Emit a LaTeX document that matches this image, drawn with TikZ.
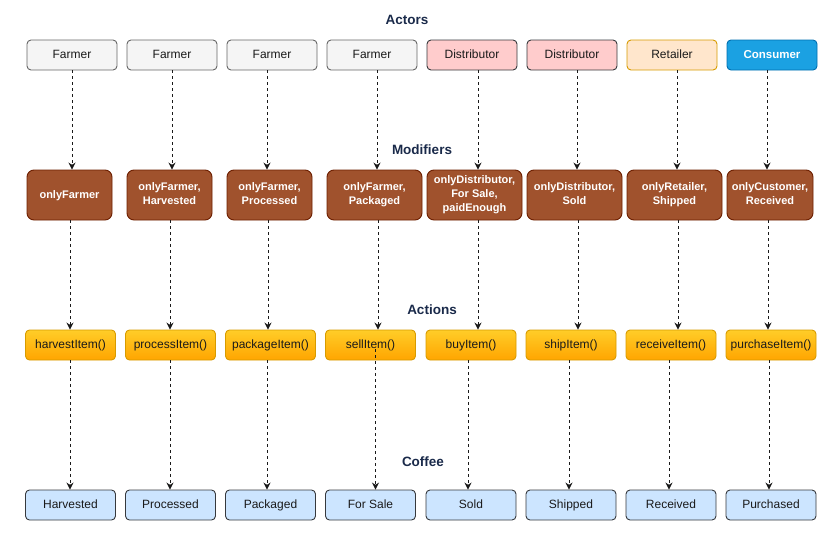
\documentclass[tikz,border=0pt]{standalone}
\usepackage{fontspec}
\setmainfont{Liberation Sans}
\usetikzlibrary{arrows.meta}
\newcommand\boxstrut{\rule[-2.6pt]{0pt}{11.2pt}}
\definecolor{titlec}{HTML}{1A2A4A}
\definecolor{txt}{HTML}{1A1A1A}
\definecolor{farmfill}{HTML}{F5F5F5}
\definecolor{farmdraw}{HTML}{666666}
\definecolor{distfill}{HTML}{FFCCCC}
\definecolor{distdraw}{HTML}{36393D}
\definecolor{retfill}{HTML}{FFE6CC}
\definecolor{retdraw}{HTML}{D79B00}
\definecolor{confill}{HTML}{1BA1E2}
\definecolor{condraw}{HTML}{006EAF}
\definecolor{modfill}{HTML}{A0522D}
\definecolor{moddraw}{HTML}{6D1F00}
\definecolor{acttop}{HTML}{FFCD28}
\definecolor{actbot}{HTML}{FFA500}
\definecolor{actdraw}{HTML}{D79B00}
\definecolor{cofill}{HTML}{CCE5FF}
\definecolor{codraw}{HTML}{36393D}
\tikzset{
  box/.style={rounded corners=4pt, line width=0.9pt, inner sep=0pt, align=center,
    font=\fontsize{12}{14}\selectfont, text=txt,
    execute at begin node=\boxstrut, execute at end node=\boxstrut},
  actorbox/.style={box, minimum width=90pt, minimum height=30pt},
  farmer/.style={actorbox, fill=farmfill, draw=farmdraw},
  distr/.style={actorbox, fill=distfill, draw=distdraw},
  retail/.style={actorbox, fill=retfill, draw=retdraw},
  consum/.style={actorbox, fill=confill, draw=condraw, text=white, font=\fontsize{11.5}{14}\selectfont\bfseries},
  modbox/.style={box, rounded corners=7pt, fill=modfill, draw=moddraw, text=white,
    font=\fontsize{11}{14}\selectfont\bfseries, minimum height=50pt},
  actbox/.style={box, top color=acttop, bottom color=actbot, draw=actdraw, minimum width=90pt, minimum height=30pt},
  cobox/.style={box, fill=cofill, draw=codraw, minimum width=90pt, minimum height=30pt},
  title/.style={font=\fontsize{13.5}{16}\selectfont\bfseries, text=titlec},
  arr/.style={-{Stealth[length=7pt,width=7pt]}, dashed, dash pattern=on 3pt off 3pt, line width=0.9pt, draw=txt}
}
\begin{document}
\begin{tikzpicture}[x=1pt,y=-1pt]
\useasboundingbox (0,0) rectangle (828,541);
% titles
\node[title] (tA) at (407,20) {Actors};
\node[title] (tM) at (422,150) {Modifiers};
\node[title] (tX) at (432,310) {Actions};
\node[title] (tC) at (423,462) {Coffee};
% actors
\node[farmer] (a1) at (72,55) {Farmer};
\node[farmer] (a2) at (172,55) {Farmer};
\node[farmer] (a3) at (272,55) {Farmer};
\node[farmer] (a4) at (372,55) {Farmer};
\node[distr] (a5) at (472,55) {Distributor};
\node[distr] (a6) at (572,55) {Distributor};
\node[retail] (a7) at (672,55) {Retailer};
\node[consum] (a8) at (772,55) {Consumer};
% modifiers
\node[modbox, minimum width=85pt] (m1) at (69.5,195) {onlyFarmer};
\node[modbox, minimum width=85pt] (m2) at (169.5,195) {onlyFarmer,\\Harvested};
\node[modbox, minimum width=85pt] (m3) at (269.5,195) {onlyFarmer,\\Processed};
\node[modbox, minimum width=95pt] (m4) at (374.5,195) {onlyFarmer,\\Packaged};
\node[modbox, minimum width=95pt] (m5) at (474.5,195) {onlyDistributor,\\For Sale,\\paidEnough};
\node[modbox, minimum width=95pt] (m6) at (574.5,195) {onlyDistributor,\\Sold};
\node[modbox, minimum width=95pt] (m7) at (674.5,195) {onlyRetailer,\\Shipped};
\node[modbox, minimum width=86pt] (m8) at (770,195) {onlyCustomer,\\Received};
% actions
\node[actbox] (t1) at (70.5,345) {harvestItem()};
\node[actbox] (t2) at (170.5,345) {processItem()};
\node[actbox] (t3) at (270.5,345) {packageItem()};
\node[actbox] (t4) at (370.5,345) {sellItem()};
\node[actbox] (t5) at (471,345) {buyItem()};
\node[actbox] (t6) at (571,345) {shipItem()};
\node[actbox] (t7) at (671,345) {receiveItem()};
\node[actbox] (t8) at (771,345) {purchaseItem()};
% coffee states
\node[cobox] (c1) at (70.5,505) {Harvested};
\node[cobox] (c2) at (170.5,505) {Processed};
\node[cobox] (c3) at (270.5,505) {Packaged};
\node[cobox] (c4) at (370.5,505) {For Sale};
\node[cobox] (c5) at (471,505) {Sold};
\node[cobox] (c6) at (571,505) {Shipped};
\node[cobox] (c7) at (671,505) {Received};
\node[cobox] (c8) at (771,505) {Purchased};
% arrows actor -> modifier
\foreach \i/\xx in {1/72,2/172,3/267,4/377,5/478,6/577,7/677,8/767}{
  \coordinate (k) at (\xx,0);
  \draw[arr] (a\i.south -| k) -- (m\i.north -| k);
}
% arrows modifier -> action
\foreach \i/\xx in {1/70,2/170,3/268,4/378,5/478,6/578,7/678,8/768}{
  \coordinate (k) at (\xx,0);
  \draw[arr] (m\i.south -| k) -- (t\i.north -| k);
}
% arrows action -> coffee
\foreach \i/\xx in {1/70,2/170,3/267,5/468,6/569,7/669,8/769}{
  \coordinate (k) at (\xx,0);
  \draw[arr] (t\i.south -| k) -- (c\i.north -| k);
}
\coordinate (k4) at (375.5,0);
\draw[arr] ([yshift=-4pt]t4.center -| k4) -- (c4.north -| k4);
\end{tikzpicture}
\end{document}
